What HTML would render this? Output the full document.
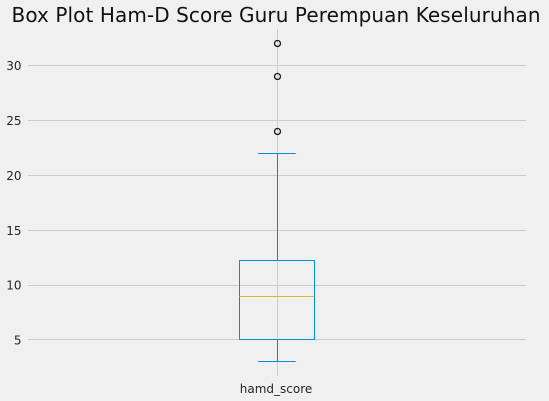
<!DOCTYPE html>
<html>
<head>
<meta charset="utf-8">
<title>Box Plot Ham-D Score</title>
<style>
html,body{margin:0;padding:0;background:#f0f0f0;width:549px;height:401px;overflow:hidden}
svg{display:block}
text{font-family:"DejaVu Sans","Liberation Sans",sans-serif;fill:#262626}
</style>
</head>
<body>
<svg id="chart" width="549" height="401" viewBox="0 0 549 401" xmlns="http://www.w3.org/2000/svg">
<rect x="0" y="0" width="549" height="401" fill="#f0f0f0"/>
<text x="11.5" y="22" text-anchor="start" font-size="20" textLength="529" lengthAdjust="spacing" style="fill:#111">Box Plot Ham-D Score Guru Perempuan Keseluruhan</text>
</svg>
<script>
const categories = ['hamd_score'];
const yTicks = [5, 10, 15, 20, 25, 30];
const q1Values = [5];
const medianValues = [9];
const q3Values = [12.25];
const whiskerLowValues = [3];
const whiskerHighValues = [22];
const outlierValues = [[24, 29, 32]];

const svg = document.getElementById('chart');
const NS = 'http://www.w3.org/2000/svg';
const plotLeft = 28, plotRight = 526, plotTop = 29, plotBottom = 376;
const yAt30 = 65.7, pxPerUnit = 10.97;
const boxWidth = 0.15, capWidth = 0.075;

function yScale(v) { return yAt30 + (30 - v) * pxPerUnit; }
function xScale(p) { return plotLeft + (p - 0.5) * (plotRight - plotLeft); }
function snap(v) { return Math.floor(v) + 0.5; }

function makeLine(x1, y1, x2, y2, color) {
  const l = document.createElementNS(NS, 'line');
  l.setAttribute('x1', x1);
  l.setAttribute('y1', y1);
  l.setAttribute('x2', x2);
  l.setAttribute('y2', y2);
  l.setAttribute('stroke', color);
  l.setAttribute('stroke-width', 1);
  svg.appendChild(l);
  return l;
}
function makeText(x, y, str, anchor) {
  const t = document.createElementNS(NS, 'text');
  t.setAttribute('x', x);
  t.setAttribute('y', y);
  t.setAttribute('text-anchor', anchor);
  t.setAttribute('font-size', '12');
  t.textContent = str;
  svg.appendChild(t);
  return t;
}

const gridColor = '#cbcbcb', boxColor = '#008fd5', medColor = '#e5ae38';

yTicks.forEach(function (v) {
  const g = makeLine(plotLeft, snap(yScale(v)), plotRight, snap(yScale(v)), gridColor);
  
  
  const t = makeText(21.5, yScale(v) + 4.5, String(v), 'end');
  
  
});

categories.forEach(function (cat, i) {
  const pos = i + 1;
  const cx = snap(xScale(pos));

  const vg = makeLine(cx, plotTop, cx, plotBottom, gridColor);
  
  

  const lab = makeText(cx - 1.5, 393, cat, 'middle');
  
  

  const boxL = snap(xScale(pos - boxWidth / 2)), boxR = snap(xScale(pos + boxWidth / 2));
  const capL = xScale(pos - capWidth / 2), capR = xScale(pos + capWidth / 2);

  const wu = makeLine(cx, snap(yScale(whiskerHighValues[i])), cx, snap(yScale(q3Values[i])), boxColor);
  
  

  const wl = makeLine(cx, snap(yScale(q1Values[i])), cx, snap(yScale(whiskerLowValues[i])), boxColor);
  
  

  const cu = makeLine(capL, snap(yScale(whiskerHighValues[i])), capR, snap(yScale(whiskerHighValues[i])), boxColor);
  
  

  const cl = makeLine(capL, snap(yScale(whiskerLowValues[i])), capR, snap(yScale(whiskerLowValues[i])), boxColor);
  
  

  const r = document.createElementNS(NS, 'rect');
  r.setAttribute('x', boxL);
  r.setAttribute('y', snap(yScale(q3Values[i])));
  r.setAttribute('width', boxR - boxL);
  r.setAttribute('height', snap(yScale(q1Values[i])) - snap(yScale(q3Values[i])));
  r.setAttribute('fill', 'none');
  r.setAttribute('stroke', boxColor);
  r.setAttribute('stroke-width', 1);
  
  
  svg.appendChild(r);

  const m = makeLine(boxL, snap(yScale(medianValues[i])), boxR, snap(yScale(medianValues[i])), medColor);
  
  

  outlierValues[i].forEach(function (v) {
    const c = document.createElementNS(NS, 'circle');
    c.setAttribute('cx', cx);
    c.setAttribute('cy', snap(yScale(v)));
    c.setAttribute('r', 3);
    c.setAttribute('fill', 'none');
    c.setAttribute('stroke', '#1a1a1a');
    c.setAttribute('stroke-width', 1.3);
    
    
    svg.appendChild(c);
  });
});
</script>
</body>
</html>
